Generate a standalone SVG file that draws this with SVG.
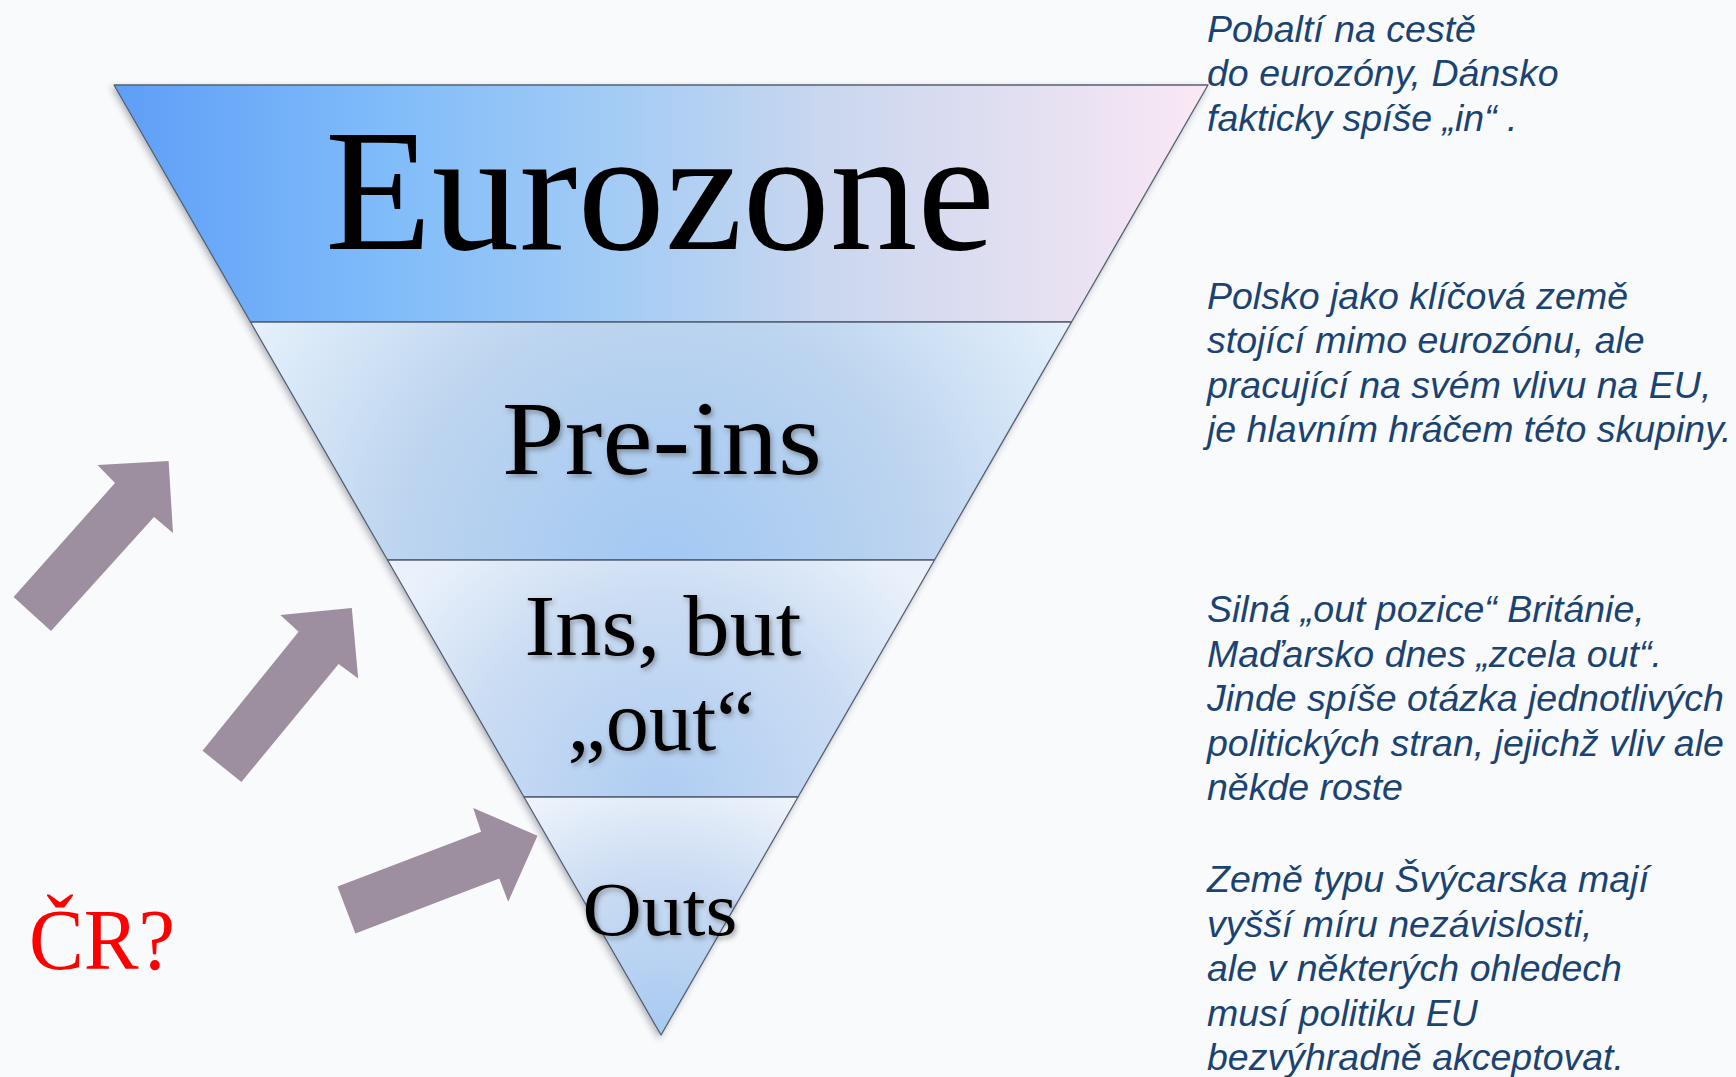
<svg xmlns="http://www.w3.org/2000/svg" width="1736" height="1077" viewBox="0 0 1736 1077">
  <defs>
    <style>
      .edge { stroke: #566072; stroke-width: 1.3; stroke-linejoin: round; }
      .label { font-family: "Liberation Serif", "Times New Roman", serif; fill: #000; text-anchor: middle; }
      .note { font-family: "Liberation Sans", Arial, sans-serif; font-style: italic; font-size: 37.5px; fill: #1b4372; }
      .arrow { fill: #9d8fa0; }
    </style>
    <linearGradient id="gEuro" gradientUnits="userSpaceOnUse" x1="114" y1="0" x2="1208" y2="0">
      <stop offset="0" stop-color="#5e9ef7"/>
      <stop offset="0.25" stop-color="#80bcfa"/>
      <stop offset="0.45" stop-color="#a2cbf5"/>
      <stop offset="0.65" stop-color="#cad7ef"/>
      <stop offset="0.85" stop-color="#e5e0f2"/>
      <stop offset="1" stop-color="#fbe8f4"/>
    </linearGradient>
    <radialGradient id="gPre" gradientUnits="userSpaceOnUse" cx="661" cy="570" r="470">
      <stop offset="0" stop-color="#a2c8f3"/>
      <stop offset="0.55" stop-color="#bcd4ef"/>
      <stop offset="1" stop-color="#e4f0fb"/>
    </radialGradient>
    <radialGradient id="gIns" gradientUnits="userSpaceOnUse" cx="661" cy="800" r="330">
      <stop offset="0" stop-color="#aecdf2"/>
      <stop offset="0.6" stop-color="#cadcf3"/>
      <stop offset="1" stop-color="#eaf1fb"/>
    </radialGradient>
    <radialGradient id="gOuts" gradientUnits="userSpaceOnUse" cx="661" cy="1030" r="260">
      <stop offset="0" stop-color="#a8caf1"/>
      <stop offset="0.6" stop-color="#cbdcf3"/>
      <stop offset="1" stop-color="#edf3fb"/>
    </radialGradient>
    <filter id="shapeShadow" x="-10%" y="-10%" width="120%" height="120%">
      <feGaussianBlur in="SourceAlpha" stdDeviation="3"/>
      <feOffset dx="-2" dy="3" result="b"/>
      <feFlood flood-color="#303848" flood-opacity="0.35"/>
      <feComposite in2="b" operator="in" result="s"/>
      <feMerge><feMergeNode in="s"/><feMergeNode in="SourceGraphic"/></feMerge>
    </filter>
    <filter id="textShadow" x="-10%" y="-20%" width="120%" height="140%">
      <feGaussianBlur in="SourceAlpha" stdDeviation="2.5"/>
      <feOffset dx="2" dy="3" result="b"/>
      <feFlood flood-color="#404040" flood-opacity="0.45"/>
      <feComposite in2="b" operator="in" result="s"/>
      <feMerge><feMergeNode in="s"/><feMergeNode in="SourceGraphic"/></feMerge>
    </filter>
  </defs>

  <rect x="0" y="0" width="1736" height="1077" fill="#f9fafc"/>

  <!-- inverted pyramid: four bands -->
  <g id="pyramid" filter="url(#shapeShadow)">
    <g id="band-eurozone">
      <polygon class="edge" fill="url(#gEuro)" points="114,85 1208,85 1071.5,322 250.5,322"/>
    </g>
    <g id="band-preins">
      <polygon class="edge" fill="url(#gPre)" points="250.5,322 1071.5,322 934.5,560 387.5,560"/>
    </g>
    <g id="band-ins-but-out">
      <polygon class="edge" fill="url(#gIns)" points="387.5,560 934.5,560 798,797 524,797"/>
    </g>
    <g id="band-outs">
      <polygon class="edge" fill="url(#gOuts)" points="524,797 798,797 661,1035"/>
    </g>
  </g>

  <!-- band labels -->
  <g id="label-eurozone">
    <text class="label" x="660" y="249" font-size="174" textLength="670" lengthAdjust="spacingAndGlyphs">Eurozone</text>
  </g>
  <g id="label-preins" filter="url(#textShadow)">
    <text class="label" x="662" y="474" font-size="106" textLength="320" lengthAdjust="spacingAndGlyphs">Pre-ins</text>
  </g>
  <g id="label-ins-but-out" filter="url(#textShadow)">
    <text class="label" x="663" y="655" font-size="87" textLength="277" lengthAdjust="spacingAndGlyphs">Ins, but</text>
    <text class="label" x="661" y="750" font-size="87" textLength="187" lengthAdjust="spacingAndGlyphs">„out“</text>
  </g>
  <g id="label-outs" filter="url(#textShadow)">
    <text class="label" x="660" y="935" font-size="77" textLength="155" lengthAdjust="spacingAndGlyphs">Outs</text>
  </g>

  <!-- block arrows pointing into the pyramid -->
  <g id="arrows">
    <polygon class="arrow" points="13.6,597 115,483 97.5,465 168.6,461 173,533 154,517 51,631"/>
    <polygon class="arrow" points="202.5,750.7 298.6,631.8 280.4,615 351.8,607.9 358.2,678.6 338.6,664 241.4,782"/>
    <polygon class="arrow" points="337.5,886.4 481.1,831.8 473.2,807.9 537.5,835.7 508.2,901.8 499.3,878.6 355.4,933.6"/>
  </g>

  <g id="label-cr">
    <text x="29" y="969" font-family="Liberation Serif, Times New Roman, serif" font-size="86" fill="#ff0000" textLength="146" lengthAdjust="spacingAndGlyphs">ČR?</text>
  </g>

  <!-- commentary on the right -->
  <g id="note-eurozone">
    <text class="note" x="1207" y="41.5">Pobaltí na cestě</text>
    <text class="note" x="1207" y="86">do eurozóny, Dánsko</text>
    <text class="note" x="1207" y="130.5">fakticky spíše „in“ .</text>
  </g>
  <g id="note-preins">
    <text class="note" x="1207" y="308.5">Polsko jako klíčová země</text>
    <text class="note" x="1207" y="353">stojící mimo eurozónu, ale</text>
    <text class="note" x="1207" y="397.5">pracující na svém vlivu na EU,</text>
    <text class="note" x="1207" y="442">je hlavním hráčem této skupiny.</text>
  </g>
  <g id="note-ins-but-out">
    <text class="note" x="1207" y="622">Silná „out pozice“ Británie,</text>
    <text class="note" x="1207" y="666.5">Maďarsko dnes „zcela out“.</text>
    <text class="note" x="1207" y="711">Jinde spíše otázka jednotlivých</text>
    <text class="note" x="1207" y="755.5">politických stran, jejichž vliv ale</text>
    <text class="note" x="1207" y="800">někde roste</text>
  </g>
  <g id="note-outs">
    <text class="note" x="1207" y="892">Země typu Švýcarska mají</text>
    <text class="note" x="1207" y="936.5">vyšší míru nezávislosti,</text>
    <text class="note" x="1207" y="981">ale v některých ohledech</text>
    <text class="note" x="1207" y="1025.5">musí politiku EU</text>
    <text class="note" x="1207" y="1070">bezvýhradně akceptovat.</text>
  </g>
</svg>
